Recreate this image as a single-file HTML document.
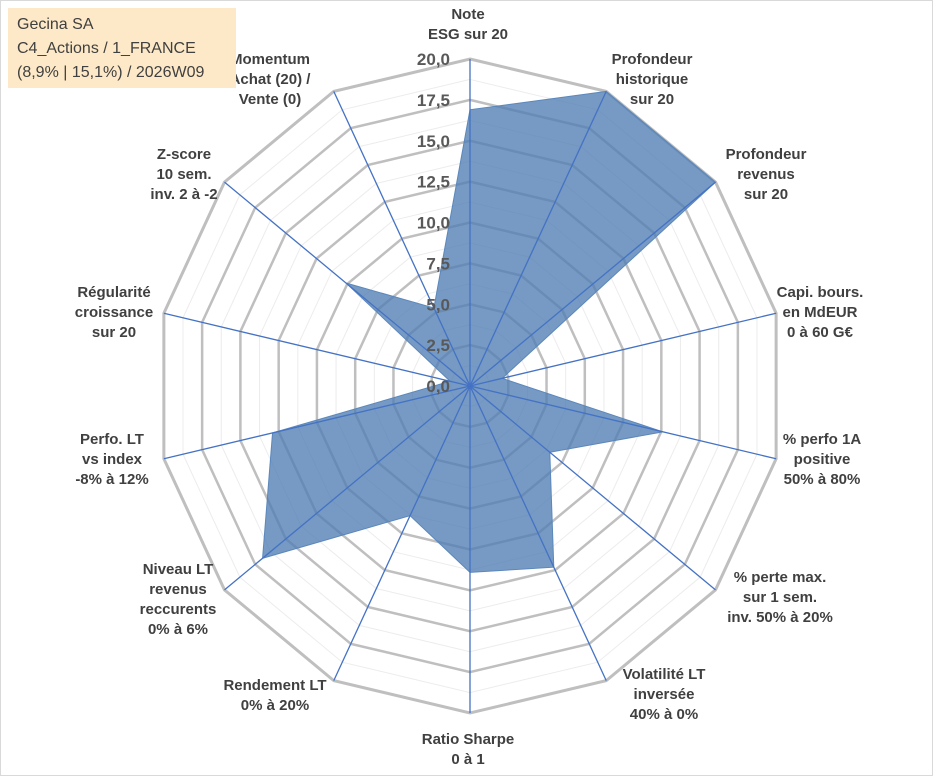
<!DOCTYPE html>
<html><head><meta charset="utf-8"><style>
body{margin:0;background:#fff;font-family:"Liberation Sans",sans-serif}
svg text{font-family:"Liberation Sans",sans-serif}
</style></head><body>
<svg width="933" height="776" xmlns="http://www.w3.org/2000/svg">
<rect x="0.5" y="0.5" width="932" height="775" fill="#fff" stroke="#d9d9d9"/>
<g id="grid"></g>
<g id="series"></g>
<g id="spokes"></g>
<g id="ticks"></g>
<g id="labels"></g>
<g>
<rect x="8" y="8" width="228" height="80" fill="#fde9c7"/>
<text x="17" y="29" font-size="16" fill="#404040">Gecina SA</text>
<text x="17" y="53" font-size="16" fill="#404040">C4_Actions / 1_FRANCE</text>
<text x="17" y="77" font-size="16" fill="#404040">(8,9% | 15,1%) / 2026W09</text>
</g>
</svg>
<script>
const categories=["Note ESG","Profondeur historique","Profondeur revenus","Capi. bours.","% perfo 1A","% perte max.","Volatilité LT","Ratio Sharpe","Rendement LT","Niveau LT revenus","Perfo. LT","Régularité croissance","Z-score","Momentum"];
const values=[16.9,20,20,2.1,12.6,6.5,12.3,11.4,8.8,16.9,12.9,1.3,10.1,5.3];
const tickLabels=["0,0","2,5","5,0","7,5","10,0","12,5","15,0","17,5","20,0"];
const labelLines=[["Note","ESG sur 20"],["Profondeur","historique","sur 20"],["Profondeur","revenus","sur 20"],["Capi. bours.","en MdEUR","0 à 60 G€"],["% perfo 1A","positive","50% à 80%"],["% perte max.","sur 1 sem.","inv. 50% à 20%"],["Volatilité LT","inversée","40% à 0%"],["Ratio Sharpe","0 à 1"],["Rendement LT","0% à 20%"],["Niveau LT","revenus","reccurents","0% à 6%"],["Perfo. LT","vs index","-8% à 12%"],["Régularité","croissance","sur 20"],["Z-score","10 sem.","inv. 2 à -2"],["Momentum","Achat (20) /","Vente (0)"]];
const labelPos=[[468,19],[652,64],[766,159],[820,297],[822,444],[780,582],[664,679],[468,744],[275,690],[178,574],[112,444],[114,297],[184,159],[270,64]];
const CX=470,CY=386,RX=314,RY=327,MAX=20,N=categories.length;
const NS="http://www.w3.org/2000/svg";
function pt(i,v){const a=i*2*Math.PI/N;const r=v/MAX;return [CX+r*RX*Math.sin(a),CY-r*RY*Math.cos(a)];}
function mk(tag,attrs,parent){const e=document.createElementNS(NS,tag);for(const k in attrs)e.setAttribute(k,attrs[k]);parent.appendChild(e);return e;}
const grid=document.getElementById('grid');
for(let k=1;k<=16;k++){const v=k*1.25;const pts=[];for(let i=0;i<N;i++)pts.push(pt(i,v).join(','));
 const major=k%2===0;
 const p=mk('polygon',{points:pts.join(' '),fill:'none',stroke:major?'#bfbfbf':'#ececec','stroke-width':major?(k===16?3:2.5):1},grid);
 
 }
const ser=document.getElementById('series');
const sp=values.map((v,i)=>pt(i,v).join(',')).join(' ');
const poly=mk('polygon',{points:sp,fill:'#4f7db3','fill-opacity':'0.78',stroke:'#5b87bb','stroke-width':1},ser);


const spokes=document.getElementById('spokes');
for(let i=0;i<N;i++){const [x,y]=pt(i,MAX);
 const l=mk('line',{x1:CX,y1:CY,x2:x,y2:y,stroke:'#4472c4','stroke-width':1.3},spokes);
 
 }
const ticks=document.getElementById('ticks');
tickLabels.forEach((t,k)=>{const y=CY-k*2.5/MAX*RY;
 const e=mk('text',{x:450,y:y+6,'text-anchor':'end','font-size':17,'font-weight':'bold',fill:'#595959'},ticks);
 e.textContent=t;
 
 });
const labels=document.getElementById('labels');
labelLines.forEach((lines,i)=>{const [x,y]=labelPos[i];
 const t=mk('text',{x:x,y:y,'text-anchor':'middle','font-size':15,'font-weight':'bold',fill:'#404040'},labels);
 
 
 lines.forEach((s,j)=>{const ts=mk('tspan',{x:x,y:y+j*20},t);ts.textContent=s;});});
</script>
</body></html>
